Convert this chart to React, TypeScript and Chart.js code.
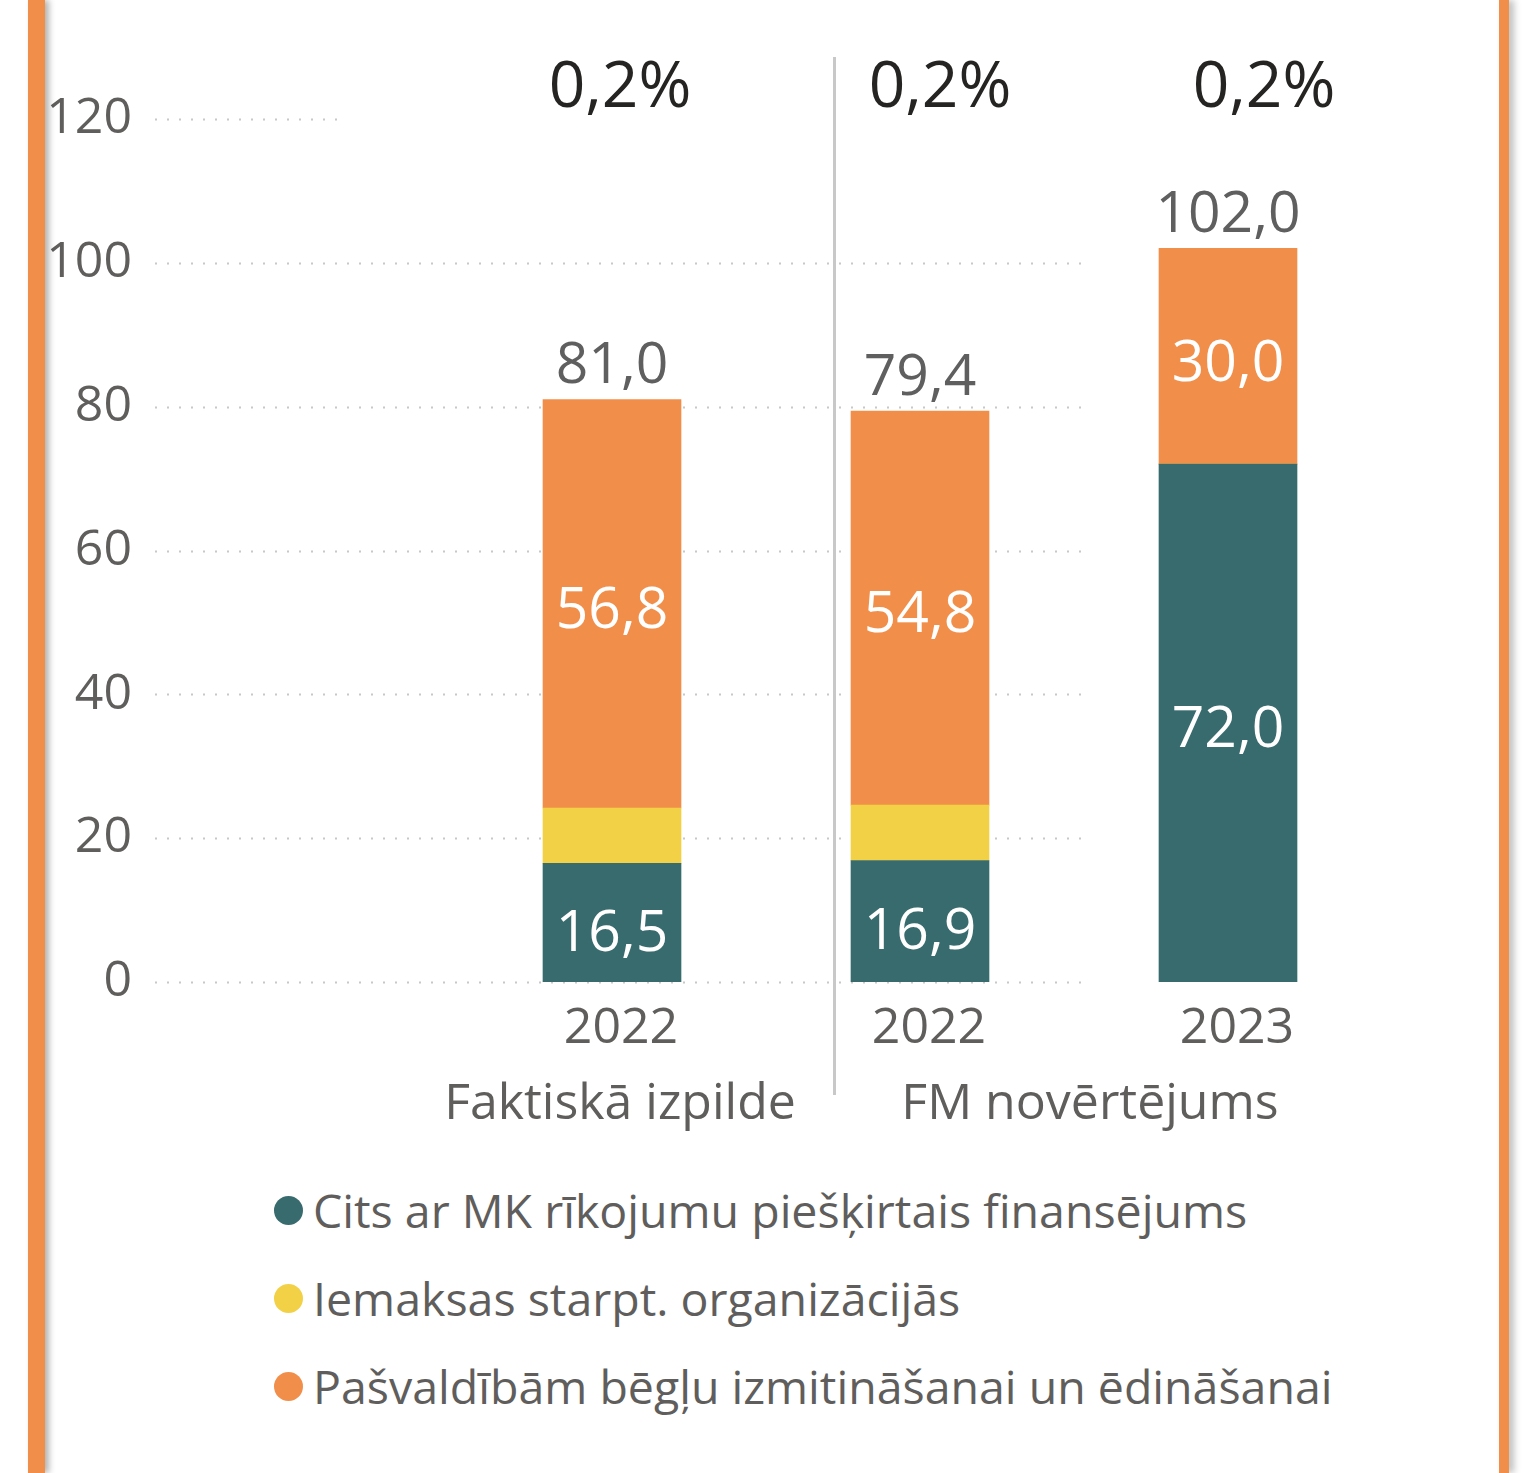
import React, { useEffect, useRef } from "react";
import { Chart, registerables } from "chart.js";

Chart.register(...registerables);

// ---- data ----
const categories = ["", "2022", "2022", "2023"];
const groupLabels = ["Faktiskā izpilde", "FM novērtējums"];
const seriesNames = [
  "Cits ar MK rīkojumu piešķirtais finansējums",
  "Iemaksas starpt. organizācijās",
  "Pašvaldībām bēgļu izmitināšanai un ēdināšanai",
];
const citsValues = [null, 16.5, 16.9, 72.0];
const iemaksasValues = [null, 7.7, 7.7, 0];
const pasvaldibamValues = [null, 56.8, 54.8, 30.0];
const shareLabels = [null, "0,2%", "0,2%", "0,2%"];
const yTickValues = [0, 20, 40, 60, 80, 100, 120];

// ---- styles ----
const COLORS = ["#386B6E", "#F2D146", "#F18F4A"];
const FONT = "'Segoe UI', 'Open Sans', 'Noto Sans', sans-serif";
const GRAY = "#605E5C";
const SHARE_DX = [0, 8, 20, 36];

const fmt = (v: number) => v.toFixed(1).replace(".", ",");

const overlayPlugin = {
  id: "overlay",
  beforeDatasetsDraw(chart: any) {
    const { ctx, chartArea, scales } = chart;
    const x = scales.x;
    const y = scales.y;
    ctx.save();
    ctx.strokeStyle = "#C8C8C8";
    ctx.lineWidth = 2;
    ctx.setLineDash([2, 10]);
    yTickValues.forEach((v) => {
      const py = Math.round(y.getPixelForValue(v)) + 0.5;
      const x0 = chartArea.left + 5;
      const x1 = v === y.max ? x.getPixelForValue(0.13) : x.getPixelForValue(2.54);
      ctx.beginPath();
      ctx.moveTo(x0, py);
      ctx.lineTo(x1, py);
      ctx.stroke();
    });
    ctx.restore();
  },
  afterDatasetsDraw(chart: any) {
    const { ctx, chartArea, scales } = chart;
    const x = scales.x;
    ctx.save();

    // separator between groups
    const sx = Math.round(x.getPixelForValue(1.72)) + 0.5;
    ctx.strokeStyle = "#C8C8C8";
    ctx.lineWidth = 3;
    ctx.beginPath();
    ctx.moveTo(sx, chartArea.top - 62);
    ctx.lineTo(sx, chartArea.bottom + 113);
    ctx.stroke();

    // inside labels
    ctx.textAlign = "center";
    ctx.textBaseline = "middle";
    ctx.font = `57px ${FONT}`;
    ctx.fillStyle = "#FFFFFF";
    [0, 2].forEach((di) => {
      const meta = chart.getDatasetMeta(di);
      const vals = chart.data.datasets[di].data as (number | null)[];
      meta.data.forEach((el: any, i: number) => {
        const v = vals[i];
        if (v == null || v === 0) return;
        const h = Math.abs(el.base - el.y);
        if (h < 80) return;
        const dy = di === 0 && h < 200 ? 12 : 8;
        ctx.fillText(fmt(v), el.x, (el.y + el.base) / 2 + dy);
      });
    });

    // totals above bars
    ctx.font = `57px ${FONT}`;
    ctx.fillStyle = "#5F5F5F";
    ctx.textBaseline = "alphabetic";
    const topMeta = chart.getDatasetMeta(2);
    categories.forEach((_, i) => {
      if (citsValues[i] == null) return;
      const total = (citsValues[i] || 0) + (iemaksasValues[i] || 0) + (pasvaldibamValues[i] || 0);
      const el: any = topMeta.data[i];
      ctx.fillText(fmt(total), el.x, el.y - 16);
    });

    // share labels
    ctx.font = `64px ${FONT}`;
    ctx.fillStyle = "#252423";
    shareLabels.forEach((s, i) => {
      if (!s) return;
      ctx.fillText(s, x.getPixelForValue(i) + SHARE_DX[i], chartArea.top - 12);
    });

    // group labels
    ctx.font = `50px ${FONT}`;
    ctx.fillStyle = GRAY;
    ctx.textBaseline = "middle";
    ctx.fillText(groupLabels[0], x.getPixelForValue(1) + 8, chartArea.bottom + 123);
    ctx.fillText(groupLabels[1], (x.getPixelForValue(2) + x.getPixelForValue(3)) / 2 + 16, chartArea.bottom + 123);

    ctx.restore();
  },
};

export default function App() {
  const canvasRef = useRef<HTMLCanvasElement | null>(null);

  useEffect(() => {
    if (!canvasRef.current) return;
    const chart = new Chart(canvasRef.current, {
      type: "bar",
      data: {
        labels: categories,
        datasets: [
          { label: seriesNames[0], data: citsValues as any, backgroundColor: COLORS[0], barThickness: 138 },
          { label: seriesNames[1], data: iemaksasValues as any, backgroundColor: COLORS[1], barThickness: 138 },
          { label: seriesNames[2], data: pasvaldibamValues as any, backgroundColor: COLORS[2], barThickness: 138 },
        ],
      },
      options: {
        responsive: false,
        animation: false,
        devicePixelRatio: 1,
        layout: { padding: { left: 45, right: 156, top: 119, bottom: 0 } },
        plugins: {
          legend: { display: false },
          tooltip: { enabled: false },
          title: { display: false },
        },
        scales: {
          x: {
            stacked: true,
            grid: { display: false },
            border: { display: false },
            ticks: {
              color: GRAY,
              font: { family: FONT, size: 50 },
              padding: 9,
              labelOffset: 9,
              maxRotation: 0,
              autoSkip: false,
            },
            afterFit: (s: any) => {
              s.height = 178;
            },
          },
          y: {
            stacked: true,
            min: 0,
            max: 120,
            grid: { display: false },
            border: { display: false },
            ticks: {
              stepSize: 20,
              color: GRAY,
              font: { family: FONT, size: 50 },
              padding: 10,
            },
            afterFit: (s: any) => {
              s.width = 105;
            },
          },
        },
      },
      plugins: [overlayPlugin],
    });
    return () => chart.destroy();
  }, []);

  return (
    <div
      style={{
        position: "absolute",
        left: 0,
        top: 0,
        width: 1538,
        height: 1473,
        overflow: "hidden",
        background: "#FFFFFF",
        fontFamily: FONT,
      }}
    >
      <canvas
        ref={canvasRef}
        width={1538}
        height={1160}
        style={{ position: "absolute", left: 0, top: 0, width: 1538, height: 1160 }}
      />
      {/* card border, left */}
      <div style={{ position: "absolute", left: 28, top: 0, width: 17, height: 1473, background: "#F18F4A", boxShadow: "4px 0 6px rgba(0,0,0,0.3)" }} />
      {/* card border, right */}
      <div style={{ position: "absolute", left: 1499, top: 0, width: 10, height: 1473, background: "#F18F4A", boxShadow: "5px 0 7px rgba(0,0,0,0.25)" }} />
      {/* legend */}
      <div style={{ position: "absolute", left: 274, top: 1166 }}>
        {seriesNames.map((name, i) => (
          <div key={name} style={{ display: "flex", alignItems: "center", height: 88 }}>
            <span
              style={{
                display: "inline-block",
                width: 29,
                height: 29,
                borderRadius: "50%",
                background: COLORS[i],
                marginRight: 10,
                flexShrink: 0,
              }}
            />
            <span style={{ fontSize: 46.5, color: GRAY, whiteSpace: "nowrap", lineHeight: "88px" }}>{name}</span>
          </div>
        ))}
      </div>
    </div>
  );
}
